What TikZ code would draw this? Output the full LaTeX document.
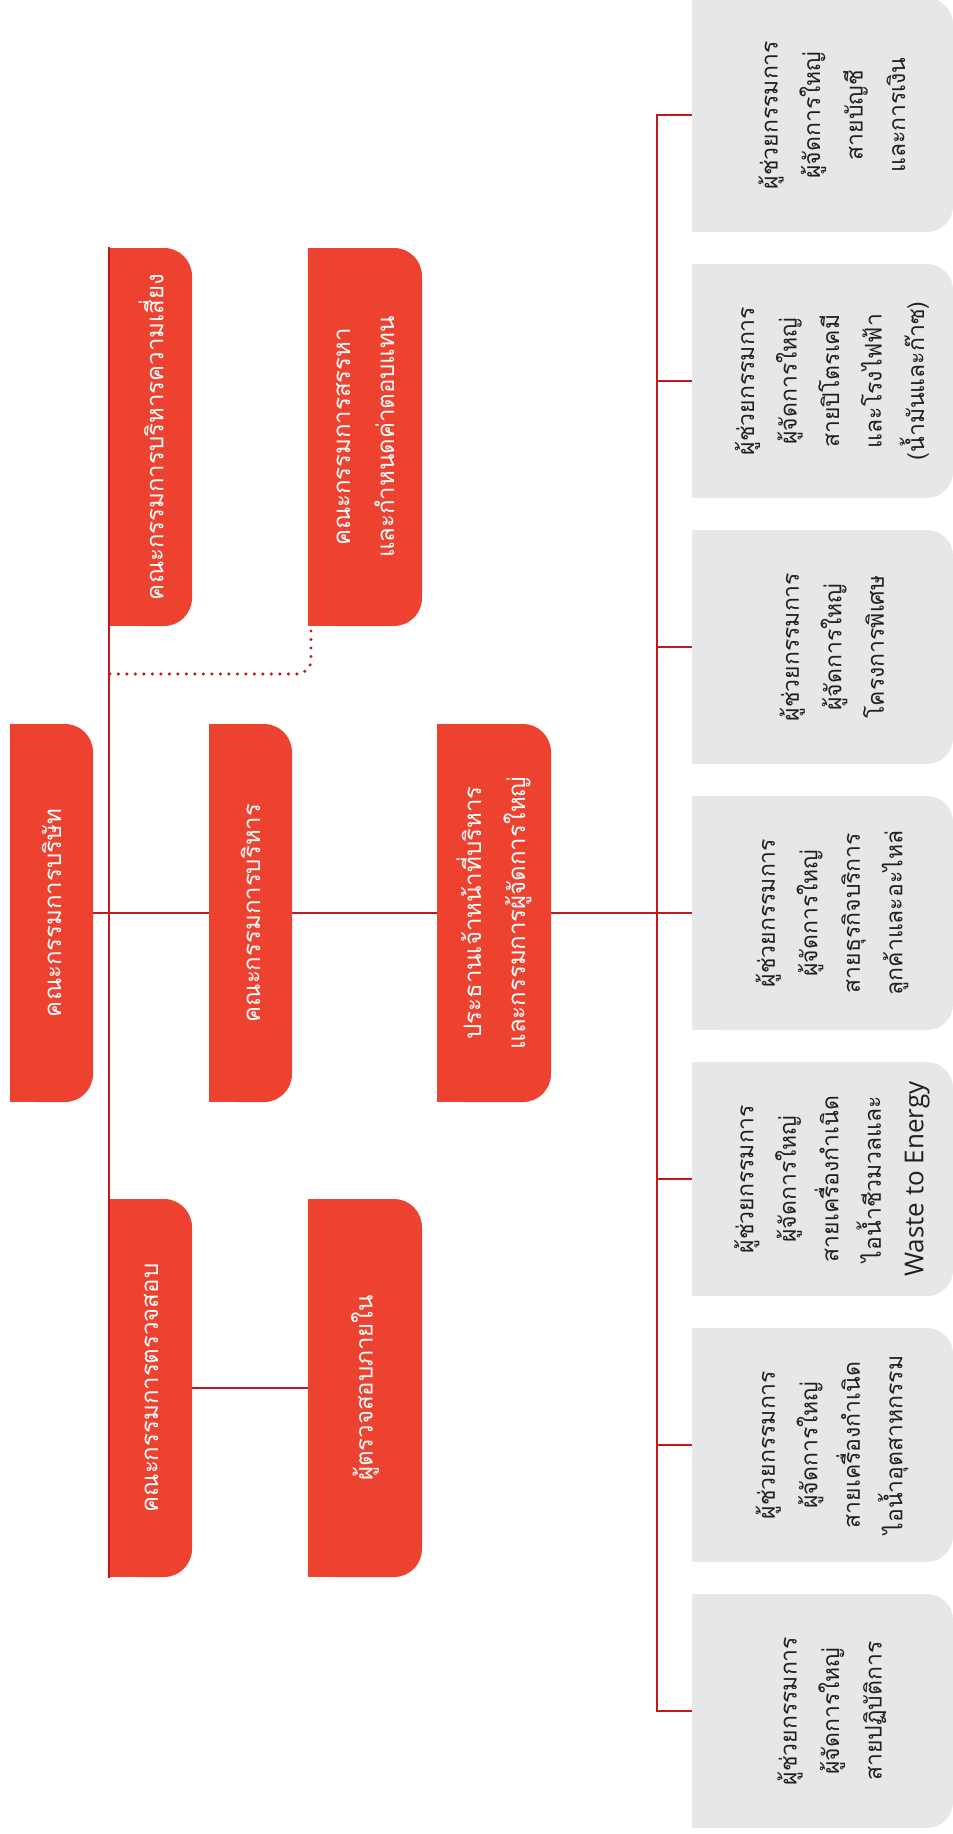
\documentclass[tikz,border=0pt]{standalone}
\usepackage{fontspec}
\newfontfamily\thaifont[Script=Thai]{Loma}
\newfontfamily\latfont{Open Sans}
\definecolor{boxred}{HTML}{EE4231}
\definecolor{boxgray}{HTML}{E6E7E8}
\definecolor{linered}{HTML}{C4161C}
\definecolor{txtdark}{HTML}{231F20}
\newcommand\topstrut{\rule{0pt}{38pt}}
\pgfdeclarelayer{bg}
\pgfsetlayers{bg,main}
\tikzset{
  redbox/.style={rotate=90, fill=boxred, rounded corners=28pt, inner sep=0pt,
    minimum width=378pt, text=white, align=center,
    font=\thaifont\fontsize{24}{44}\selectfont},
  graybox/.style={rotate=90, fill=boxgray, rounded corners=26pt, inner sep=0pt,
    minimum width=234pt, minimum height=261pt, text=txtdark, align=center,
    font=\thaifont\fontsize{23}{42.5}\selectfont},
  conn/.style={draw=linered, line width=2.8pt},
  dotconn/.style={draw=linered, line width=3.4pt, line cap=round,
    dash pattern=on 0pt off 8.5pt, rounded corners=14pt},
}
\begin{document}
\begin{tikzpicture}[x=1pt,y=-1pt]
\useasboundingbox (0,0) rectangle (953,1834);
% red boxes
\node[redbox, minimum height=83pt]  (b1) at (51.5,913) {คณะกรรมการบริษัท};
\node[redbox, minimum height=83pt]  (b2) at (250.5,913) {คณะกรรมการบริหาร};
\node[redbox, minimum height=114pt] (b3) at (494,913) {ประธานเจ้าหน้าที่บริหาร\\และกรรมการผู้จัดการใหญ่};
\node[redbox, minimum height=82pt]  (b4) at (151,437) {คณะกรรมการบริหารความเสี่ยง};
\node[redbox, minimum height=114pt] (b5) at (365,437) {คณะกรรมการสรรหา\\และกำหนดค่าตอบแทน};
\node[redbox, minimum height=82pt]  (b6) at (151,1388) {คณะกรรมการตรวจสอบ};
\node[redbox, minimum height=114pt] (b7) at (365,1388) {ผู้ตรวจสอบภายใน};
% gray boxes
\node[graybox] (g1) at (822.5,115)  {\topstrut ผู้ช่วยกรรมการ\\ผู้จัดการใหญ่\\สายบัญชี\\และการเงิน};
\node[graybox] (g2) at (822.5,381)  {\topstrut ผู้ช่วยกรรมการ\\ผู้จัดการใหญ่\\สายปิโตรเคมี\\และโรงไฟฟ้า\\(น้ำมันและก๊าซ)};
\node[graybox] (g3) at (822.5,647)  {\topstrut ผู้ช่วยกรรมการ\\ผู้จัดการใหญ่\\โครงการพิเศษ};
\node[graybox] (g4) at (822.5,913)  {\topstrut ผู้ช่วยกรรมการ\\ผู้จัดการใหญ่\\สายธุรกิจบริการ\\ลูกค้าและอะไหล่};
\node[graybox] (g5) at (822.5,1179) {\topstrut ผู้ช่วยกรรมการ\\ผู้จัดการใหญ่\\สายเครื่องกำเนิด\\ไอน้ำชีวมวลและ\\\latfont\fontsize{26}{42.5}\selectfont Waste to Energy};
\node[graybox] (g6) at (822.5,1445) {\topstrut ผู้ช่วยกรรมการ\\ผู้จัดการใหญ่\\สายเครื่องกำเนิด\\ไอน้ำอุตสาหกรรม};
\node[graybox] (g7) at (822.5,1711) {\topstrut ผู้ช่วยกรรมการ\\ผู้จัดการใหญ่\\สายปฏิบัติการ};
% trunk coordinates
\coordinate (lt) at (109,247);
\coordinate (lb) at (109,1578);
\coordinate (d1) at (311,631);
\coordinate (d2) at (109,674);
\foreach \i/\y in {1/115,2/381,3/647,4/913,5/1179,6/1445,7/1711}
  \coordinate (r\i) at (657,\y);
\begin{pgfonlayer}{bg}
  % square off left corners
  \foreach \n in {b1,b2,b3,b4,b5,b6,b7} \fill[boxred] (\n.north west) rectangle (\n.east);
  \foreach \n in {g1,g2,g3,g4,g5,g6,g7} \fill[boxgray] (\n.north west) rectangle (\n.east);
  % connectors
  \draw[conn] (lt) -- (lb);
  \draw[conn] (b1) -- (b2);
  \draw[conn] (b2) -- (b3);
  \draw[conn] (b3) -- (g4);
  \draw[conn] (b6) -- (b7);
  \draw[conn] (g1) -- (r1) -- (r7) -- (g7);
  \foreach \i in {2,3,5,6} \draw[conn] (r\i) -- (g\i);
  \draw[dotconn] (d1) |- (d2);
\end{pgfonlayer}
\end{tikzpicture}
\end{document}
